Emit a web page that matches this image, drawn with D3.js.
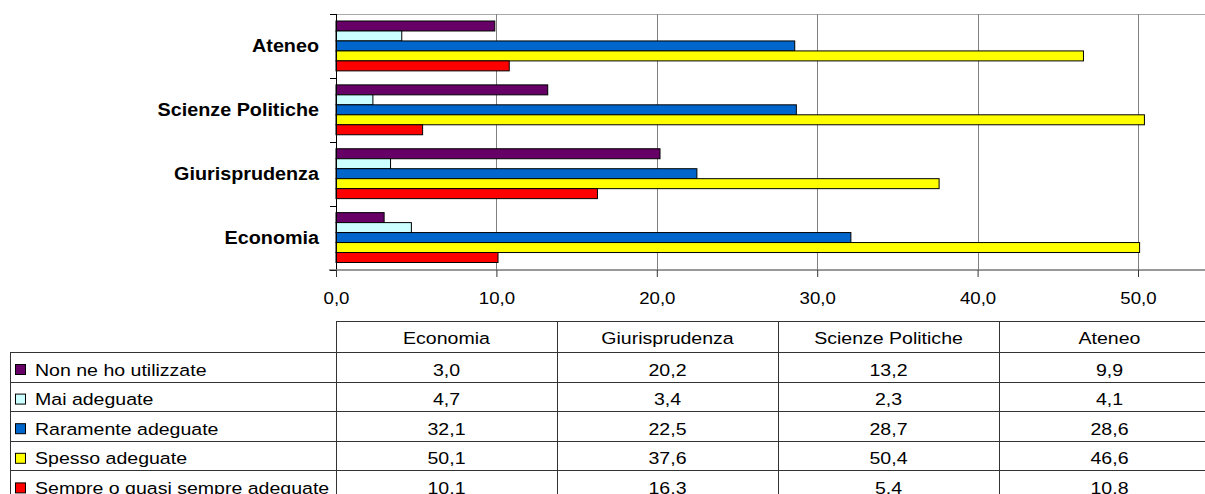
<!DOCTYPE html>
<html>
<head>
<meta charset="utf-8">
<script src="https://cdn.jsdelivr.net/npm/d3@7"></script>
<style>
  body { margin: 0; background: #fff; }
  text { font-family: "Liberation Sans", Arial, sans-serif; fill: #000; }
</style>
</head>
<body>
<div id="chart"></div>
<script>
var width = 1205,
    height = 494;

// data
var categories = ["Economia", "Giurisprudenza", "Scienze Politiche", "Ateneo"];
var seriesNames = ["Non ne ho utilizzate", "Mai adeguate", "Raramente adeguate", "Spesso adeguate", "Sempre o quasi sempre adeguate"];
var seriesColors = ["#660066", "#ccffff", "#0066cc", "#ffff00", "#ff0000"];
var nonUtilizzate = [3.0, 20.2, 13.2, 9.9];
var maiAdeguate = [4.7, 3.4, 2.3, 4.1];
var raramenteAdeguate = [32.1, 22.5, 28.7, 28.6];
var spessoAdeguate = [50.1, 37.6, 50.4, 46.6];
var sempreAdeguate = [10.1, 16.3, 5.4, 10.8];
var xTicks = [0, 10, 20, 30, 40, 50];

var seriesValues = [nonUtilizzate, maiAdeguate, raramenteAdeguate, spessoAdeguate, sempreAdeguate];

// the source picture is stretched sideways a bit, so text is too
var SX = 1.13;

var it = d3.formatLocale({decimal: ",", thousands: ".", grouping: [3], currency: ["€", ""]});
var fmt = it.format(".1f");

var plotLeft = 336, plotTop = 14, plotBottom = 269.5;

var svg = d3.select("#chart").append("svg")
    .attr("width", width)
    .attr("height", height);

var x = d3.scaleLinear()
    .domain([0, 50])
    .range([plotLeft, 1138]);

// Ateneo on top, Economia at the bottom
var y = d3.scaleBand()
    .domain(categories.slice().reverse())
    .range([plotTop, plotBottom]);

var bw = y.bandwidth();
var ySub = d3.scaleBand()
    .domain(seriesNames)
    .range([7, bw - 7]);

function label(parent, px, py, s, anchor, size, weight) {
  return parent.append("text")
      .attr("transform", "translate(" + px + "," + py + ") scale(" + SX + ",1)")
      .attr("text-anchor", anchor)
      .style("font-size", size + "px")
      .style("font-weight", weight || "normal")
      .text(s);
}

// top border of plot area
svg.append("line")
    .attr("x1", plotLeft).attr("x2", width)
    .attr("y1", plotTop + 0.5).attr("y2", plotTop + 0.5)
    .attr("stroke", "#a8a8a8");

// gridlines
svg.append("g").selectAll("line")
    .data(xTicks.slice(1))
  .enter().append("line")
    .attr("x1", function(d) { return Math.round(x(d)) + 0.5; })
    .attr("x2", function(d) { return Math.round(x(d)) + 0.5; })
    .attr("y1", plotTop)
    .attr("y2", plotBottom)
    .attr("stroke", "#808080");

// bars
var groups = svg.append("g").selectAll(".cat")
    .data(categories)
  .enter().append("g")
    .attr("class", "cat")
    .attr("transform", function(d) { return "translate(0," + y(d) + ")"; });

groups.selectAll("rect")
    .data(function(d, ci) {
      return seriesNames.map(function(s, si) { return {s: s, i: si, v: seriesValues[si][ci]}; });
    })
  .enter().append("rect")
    .attr("x", x(0))
    .attr("y", function(d) { return ySub(d.s); })
    .attr("width", function(d) { return x(d.v) - x(0); })
    .attr("height", ySub.bandwidth())
    .attr("fill", function(d) { return seriesColors[d.i]; })
    .attr("stroke", "#000")
    .attr("stroke-width", 1);

// left axis
svg.append("line")
    .attr("x1", plotLeft + 0.5).attr("x2", plotLeft + 0.5)
    .attr("y1", plotTop).attr("y2", plotBottom)
    .attr("stroke", "#000");

var bounds = categories.map(function(c) { return y(c); }).concat([plotBottom]);
svg.append("g").selectAll("line")
    .data(bounds)
  .enter().append("line")
    .attr("x1", 330).attr("x2", plotLeft)
    .attr("y1", function(d) { return Math.round(d) + 0.5; })
    .attr("y2", function(d) { return Math.round(d) + 0.5; })
    .attr("stroke", "#000");

var catLabels = svg.append("g");
categories.forEach(function(c) {
  label(catLabels, 319, y(c) + bw / 2 + 6.5, c, "end", 17.5, "bold");
});

// bottom axis
var xAxis = svg.append("g")
    .attr("transform", "translate(0," + (plotBottom + 0.5) + ")")
    .call(d3.axisBottom(x).tickValues(xTicks).tickSize(7).tickSizeOuter(0).tickFormat(fmt));
xAxis.select(".domain").remove();
xAxis.append("line")
    .attr("x1", 329).attr("x2", width)
    .attr("stroke", "#333");
xAxis.selectAll(".tick line").attr("stroke", "#333");
xAxis.selectAll(".tick text")
    .attr("y", 34.5)
    .attr("dy", 0)
    .attr("transform", "scale(" + SX + ",1)")
    .style("font-size", "16.5px")
    .style("font-family", "'Liberation Sans', Arial, sans-serif")
    .attr("fill", "#000");

// data table
var table = svg.append("g");
var colW = 221;
var headTop = 321, rowTop = 352, rowH = 29.6;
var tableLine = "#333";

var colX = categories.map(function(c, i) { return plotLeft + i * colW; });

table.append("line")
    .attr("x1", plotLeft).attr("x2", width)
    .attr("y1", headTop + 0.5).attr("y2", headTop + 0.5)
    .attr("stroke", tableLine);

d3.range(seriesNames.length + 1).forEach(function(r) {
  var yy = Math.round(rowTop + r * rowH) + 0.5;
  table.append("line")
      .attr("x1", 10).attr("x2", width)
      .attr("y1", yy).attr("y2", yy)
      .attr("stroke", tableLine);
});

table.append("line")
    .attr("x1", 10.5).attr("x2", 10.5)
    .attr("y1", rowTop).attr("y2", height)
    .attr("stroke", tableLine);

colX.forEach(function(cx) {
  table.append("line")
      .attr("x1", Math.round(cx) + 0.5).attr("x2", Math.round(cx) + 0.5)
      .attr("y1", headTop).attr("y2", height)
      .attr("stroke", tableLine);
});

categories.forEach(function(c, i) {
  label(table, colX[i] + colW / 2, headTop + 22.5, c, "middle", 17.3);
});

seriesNames.forEach(function(s, si) {
  var ry = rowTop + si * rowH;
  table.append("rect")
      .attr("x", 15.5).attr("y", ry + 12.5)
      .attr("width", 10).attr("height", 10)
      .attr("fill", seriesColors[si])
      .attr("stroke", "#000");
  label(table, 35, ry + 23.5, s, "start", 17.3);
  seriesValues[si].forEach(function(v, ci) {
    label(table, colX[ci] + colW / 2, ry + 23.5, fmt(v), "middle", 17.3);
  });
});
</script>
</body>
</html>
